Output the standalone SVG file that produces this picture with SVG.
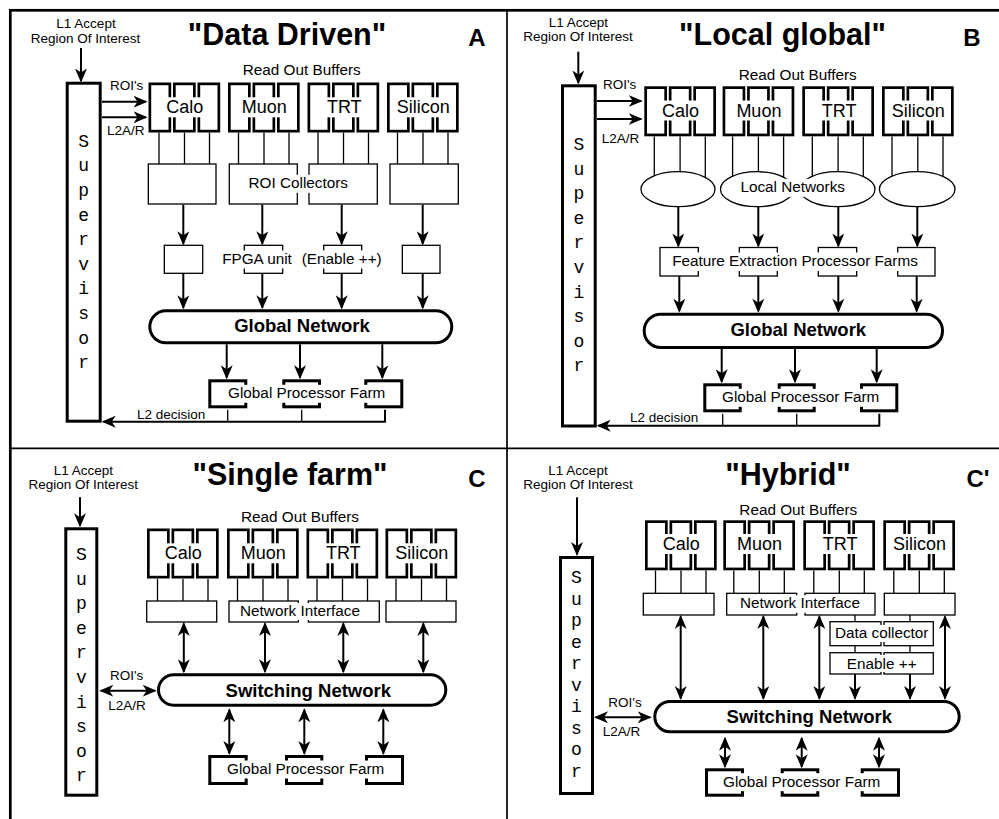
<svg xmlns="http://www.w3.org/2000/svg" width="999" height="819" viewBox="0 0 999 819">
<defs>
<style>
.t{font-family:"Liberation Sans",Arial,Helvetica,sans-serif;fill:#000}
.s{font-size:13.5px}
.m{font-size:15.3px}
.b{font-size:18px}
.nw{font-size:18.5px;font-weight:bold}
.ti{font-size:30.5px;font-weight:bold}
.pl{font-size:24px;font-weight:bold}
.c{text-anchor:middle}
.e{text-anchor:end}
.mono{font-family:"Liberation Mono","Courier New",monospace;font-size:18px;text-anchor:middle;fill:#000}
.thin{fill:#fff;stroke:#000;stroke-width:1.3}
.thick{fill:#fff;stroke:#000;stroke-width:3}
.ln{stroke:#000;stroke-width:1.3;fill:none}
.ar{stroke:#000;stroke-width:2;fill:none;marker-end:url(#ah)}
.da{stroke:#000;stroke-width:2;fill:none;marker-start:url(#ah);marker-end:url(#ah)}
.bg{fill:#fff}
</style>
<marker id="ah" viewBox="0 0 14 12" refX="12.5" refY="6" markerWidth="14" markerHeight="12" markerUnits="userSpaceOnUse" orient="auto-start-reverse">
<path d="M0,0 L14,6 L0,12 L4,6 Z" fill="#000"/>
</marker>
<g id="rob" fill="#fff" stroke="#000" stroke-width="2.7">
<rect x="1.35" y="1.35" width="20" height="47.3"/>
<rect x="25.85" y="1.35" width="20" height="47.3"/>
<rect x="50.35" y="1.35" width="20" height="47.3"/>
</g>
</defs>
<rect width="999" height="819" fill="#fff"/>
<g id="frame" fill="none" stroke="#000">
<rect x="10.3" y="10.3" width="1100" height="1000" stroke-width="2.7"/>
<line x1="507" y1="9" x2="507" y2="819" stroke-width="1.7"/>
<line x1="9" y1="448.3" x2="999" y2="448.3" stroke-width="1.7"/>
</g>

<!-- ===================== PANEL A ===================== -->
<g id="panelA">
<g id="A-connectors">
<path class="ar" d="M81,48 V81"/>
<path class="ar" d="M102,101.7 H146"/>
<path class="ar" d="M102,117.3 H146"/>
<path class="ln" d="M159,132.5 V164 M184.5,132.5 V164 M209.5,132.5 V164 M238.5,132.5 V164 M264,132.5 V164 M289,132.5 V164 M318,132.5 V164 M343.5,132.5 V164 M368.5,132.5 V164 M397.5,132.5 V164 M423,132.5 V164 M448,132.5 V164"/>
<path class="ar" d="M183.3,204.7 V243.8"/>
<path class="ar" d="M262.3,204.7 V243.8"/>
<path class="ar" d="M341.7,204.7 V243.8"/>
<path class="ar" d="M422.7,204.7 V243.8"/>
<path class="ar" d="M183.3,273.3 V307.8"/>
<path class="ar" d="M262.3,273.3 V307.8"/>
<path class="ar" d="M341.7,273.3 V307.8"/>
<path class="ar" d="M422.7,273.3 V307.8"/>
<path class="ar" d="M226.7,344.3 V377.8"/>
<path class="ar" d="M300,344.3 V377.8"/>
<path class="ar" d="M382.3,344.3 V377.8"/>
<path class="ln" d="M227.7,409.8 V421.7 M301.7,409.8 V421.7" stroke-width="1.5"/>
<path class="ar" d="M385,409.8 V421.7 H103.2"/>
</g>
<g id="A-supervisor">
<rect class="thick" x="67.2" y="83.2" width="33" height="338"/>
<text class="mono"><tspan x="83.7" y="146.7">S</tspan><tspan x="83.7" y="171.3">u</tspan><tspan x="83.7" y="195.9">p</tspan><tspan x="83.7" y="220.5">e</tspan><tspan x="83.7" y="245.1">r</tspan><tspan x="83.7" y="269.7">v</tspan><tspan x="83.7" y="294.3">i</tspan><tspan x="83.7" y="318.9">s</tspan><tspan x="83.7" y="343.5">o</tspan><tspan x="83.7" y="368.1">r</tspan></text>
</g>
<g id="A-calo"><use href="#rob" x="148.5" y="82.5"/><rect class="bg" x="165.3" y="97.3" width="39" height="20"/><text class="t b c" x="184.8" y="113.3">Calo</text></g>
<g id="A-muon"><use href="#rob" x="228" y="82.5"/><rect class="bg" x="240.8" y="97.3" width="47" height="20"/><text class="t b c" x="264.3" y="113.3">Muon</text></g>
<g id="A-trt"><use href="#rob" x="307.5" y="82.5"/><rect class="bg" x="325.8" y="97.3" width="37" height="20"/><text class="t b c" x="344.3" y="113.3">TRT</text></g>
<g id="A-silicon"><use href="#rob" x="387" y="82.5"/><rect class="bg" x="395.8" y="97.3" width="55" height="20"/><text class="t b c" x="423.3" y="113.3">Silicon</text></g>
<g id="A-collectors">
<rect class="thin" x="148.3" y="164" width="67.7" height="40"/>
<rect class="thin" x="229.3" y="164" width="68" height="40"/>
<rect class="thin" x="309" y="164" width="68.3" height="40"/>
<rect class="thin" x="390" y="164" width="68.3" height="40"/>
<rect class="bg" x="247.5" y="174.8" width="101.5" height="18"/>
<text class="t m c" x="298.3" y="188.3">ROI Collectors</text>
</g>
<g id="A-units">
<rect class="thin" x="164.3" y="245.3" width="38.4" height="28"/>
<rect class="thin" x="244.3" y="245.3" width="38.4" height="28"/>
<rect class="thin" x="323.7" y="245.3" width="38" height="28"/>
<rect class="thin" x="402.3" y="245.3" width="37.7" height="28"/>
<rect class="bg" x="220.7" y="250.5" width="72.6" height="18"/>
<text class="t m c" x="257" y="264">FPGA unit</text>
<rect class="bg" x="300.7" y="250.5" width="82" height="18"/>
<text class="t m c" x="341.7" y="264">(Enable ++)</text>
</g>
<g id="A-global-network">
<rect class="thick" x="149.8" y="310.8" width="302" height="32" rx="16"/>
<text class="t nw c" x="302" y="331.7">Global Network</text>
</g>
<g id="A-gpf">
<rect class="thick" x="209.8" y="380.8" width="36" height="26"/>
<rect class="thick" x="283.8" y="380.8" width="35.7" height="26"/>
<rect class="thick" x="365.8" y="380.8" width="36" height="26"/>
<rect class="bg" x="227" y="384.8" width="159.3" height="18"/>
<text class="t m c" x="306.7" y="398.3">Global Processor Farm</text>
</g>
<g id="A-labels">
<text class="t s c" x="86" y="28">L1 Accept</text>
<text class="t s c" x="85.5" y="43">Region Of Interest</text>
<text class="t ti c" x="287" y="45">"Data Driven"</text>
<text class="t pl c" x="477" y="46">A</text>
<text class="t m c" x="301.7" y="75">Read Out Buffers</text>
<text class="t s" x="110" y="90">ROI's</text>
<text class="t s" x="107" y="135">L2A/R</text>
<text class="t s" x="137" y="419">L2 decision</text>
</g>
</g>

<!-- ===================== PANEL B ===================== -->
<g id="panelB">
<g id="B-connectors">
<path class="ar" d="M578.3,51.7 V83"/>
<path class="ar" d="M597,101 H641.2"/>
<path class="ar" d="M597,119 H641.2"/>
<path class="ln" d="M654.3,136.5 V189 M680.1,136.5 V189 M705.3,136.5 V189 M732.6,136.5 V189 M758.4,136.5 V189 M783.6,136.5 V189 M812.3,136.5 V189 M838.1,136.5 V189 M863.3,136.5 V189 M892,136.5 V189 M917.8,136.5 V189 M943,136.5 V189"/>
<path class="ar" d="M678.3,206.7 V246"/>
<path class="ar" d="M758.3,206.7 V246"/>
<path class="ar" d="M838.3,206.7 V246"/>
<path class="ar" d="M917.3,206.7 V246"/>
<path class="ar" d="M679.3,276 V311.2"/>
<path class="ar" d="M758.3,276 V311.2"/>
<path class="ar" d="M838.3,276 V311.2"/>
<path class="ar" d="M916.7,276 V311.2"/>
<path class="ar" d="M721.7,349 V381.8"/>
<path class="ar" d="M795,349 V381.8"/>
<path class="ar" d="M876.7,349 V381.8"/>
<path class="ln" d="M722.7,413.8 V425.7 M796.7,413.8 V425.7" stroke-width="1.5"/>
<path class="ar" d="M879.3,413.8 V425.7 H598.2"/>
</g>
<g id="B-supervisor">
<rect class="thick" x="562.5" y="85.8" width="32.7" height="340.2"/>
<text class="mono"><tspan x="578.8" y="150">S</tspan><tspan x="578.8" y="174.6">u</tspan><tspan x="578.8" y="199.2">p</tspan><tspan x="578.8" y="223.8">e</tspan><tspan x="578.8" y="248.4">r</tspan><tspan x="578.8" y="273">v</tspan><tspan x="578.8" y="297.6">i</tspan><tspan x="578.8" y="322.2">s</tspan><tspan x="578.8" y="346.8">o</tspan><tspan x="578.8" y="371.4">r</tspan></text>
</g>
<g id="B-calo"><use href="#rob" x="644.3" y="86.3"/><rect class="bg" x="661.1" y="100.5" width="39" height="20"/><text class="t b c" x="680.6" y="116.5">Calo</text></g>
<g id="B-muon"><use href="#rob" x="722.6" y="86.3"/><rect class="bg" x="735.4" y="100.5" width="47" height="20"/><text class="t b c" x="758.9" y="116.5">Muon</text></g>
<g id="B-trt"><use href="#rob" x="802.3" y="86.3"/><rect class="bg" x="820.6" y="100.5" width="37" height="20"/><text class="t b c" x="839.1" y="116.5">TRT</text></g>
<g id="B-silicon"><use href="#rob" x="882" y="86.3"/><rect class="bg" x="890.8" y="100.5" width="55" height="20"/><text class="t b c" x="918.3" y="116.5">Silicon</text></g>
<g id="B-local-networks">
<ellipse class="thin" cx="678" cy="189.2" rx="37" ry="17.5"/>
<ellipse class="thin" cx="757" cy="189.2" rx="36.5" ry="17.5"/>
<ellipse class="thin" cx="837.5" cy="189.2" rx="37.5" ry="17.5"/>
<ellipse class="thin" cx="917.2" cy="189.2" rx="37.8" ry="17.5"/>
<rect class="bg" x="739.4" y="178.8" width="106.6" height="18"/>
<text class="t m c" x="792.7" y="192.3">Local Networks</text>
</g>
<g id="B-feature">
<rect class="thin" x="660" y="247.5" width="38.3" height="28.5"/>
<rect class="thin" x="739.3" y="247.5" width="38" height="28.5"/>
<rect class="thin" x="818.3" y="247.5" width="38.4" height="28.5"/>
<rect class="thin" x="897.7" y="247.5" width="37.3" height="28.5"/>
<rect class="bg" x="671.1" y="252.5" width="247.7" height="18.5"/>
<text class="t m c" x="795" y="266">Feature Extraction Processor Farms</text>
</g>
<g id="B-global-network">
<rect class="thick" x="644.2" y="314.2" width="298.3" height="33.3" rx="16.6"/>
<text class="t nw c" x="798.3" y="336">Global Network</text>
</g>
<g id="B-gpf">
<rect class="thick" x="704.8" y="384.8" width="35.4" height="26"/>
<rect class="thick" x="779.2" y="384.8" width="35" height="26"/>
<rect class="thick" x="861.5" y="384.8" width="35.3" height="26"/>
<rect class="bg" x="721" y="388.8" width="159.3" height="18"/>
<text class="t m c" x="800.7" y="402.3">Global Processor Farm</text>
</g>
<g id="B-labels">
<text class="t s c" x="578.3" y="26.7">L1 Accept</text>
<text class="t s c" x="578" y="41">Region Of Interest</text>
<text class="t ti c" x="782.5" y="45">"Local global"</text>
<text class="t pl c" x="972" y="46">B</text>
<text class="t m c" x="797.7" y="80">Read Out Buffers</text>
<text class="t s" x="603" y="89.3">ROI's</text>
<text class="t s" x="601.7" y="143.3">L2A/R</text>
<text class="t s e" x="698.3" y="421.7">L2 decision</text>
</g>
</g>

<!-- ===================== PANEL C ===================== -->
<g id="panelC">
<g id="C-connectors">
<path class="ar" d="M80,497.3 V525.8"/>
<path class="ln" d="M157.5,579 V601 M183,579 V601 M208,579 V601 M237.5,579 V601 M263,579 V601 M288,579 V601 M317,579 V601 M342.5,579 V601 M367.5,579 V601 M396,579 V601 M421.5,579 V601 M446.5,579 V601"/>
<path class="da" d="M183.8,623.5 V671.8"/>
<path class="da" d="M265,623.5 V671.8"/>
<path class="da" d="M343.3,623.5 V671.8"/>
<path class="da" d="M423.3,623.5 V671.8"/>
<path class="da" d="M100.8,690.7 H155.2"/>
<path class="da" d="M229.3,709.8 V753.5"/>
<path class="da" d="M304.3,709.8 V753.5"/>
<path class="da" d="M383.3,709.8 V753.5"/>
</g>
<g id="C-supervisor">
<rect class="thick" x="65.8" y="528.8" width="31" height="266.4"/>
<text class="mono"><tspan x="81.3" y="560">S</tspan><tspan x="81.3" y="584.6">u</tspan><tspan x="81.3" y="609.2">p</tspan><tspan x="81.3" y="633.8">e</tspan><tspan x="81.3" y="658.4">r</tspan><tspan x="81.3" y="683">v</tspan><tspan x="81.3" y="707.6">i</tspan><tspan x="81.3" y="732.2">s</tspan><tspan x="81.3" y="756.8">o</tspan><tspan x="81.3" y="781.4">r</tspan></text>
</g>
<g id="C-calo"><use href="#rob" x="147" y="528.5"/><rect class="bg" x="163.8" y="543.3" width="39" height="20"/><text class="t b c" x="183.3" y="559.3">Calo</text></g>
<g id="C-muon"><use href="#rob" x="227" y="528.5"/><rect class="bg" x="239.8" y="543.3" width="47" height="20"/><text class="t b c" x="263.3" y="559.3">Muon</text></g>
<g id="C-trt"><use href="#rob" x="306.5" y="528.5"/><rect class="bg" x="324.8" y="543.3" width="37" height="20"/><text class="t b c" x="343.3" y="559.3">TRT</text></g>
<g id="C-silicon"><use href="#rob" x="385.5" y="528.5"/><rect class="bg" x="394.3" y="543.3" width="55" height="20"/><text class="t b c" x="421.8" y="559.3">Silicon</text></g>
<g id="C-network-interface">
<rect class="thin" x="146.7" y="601" width="70" height="21"/>
<rect class="thin" x="229" y="601" width="69.3" height="21"/>
<rect class="thin" x="308.3" y="601" width="71" height="21"/>
<rect class="thin" x="386" y="601" width="70" height="21"/>
<rect class="bg" x="239" y="603" width="122" height="17"/>
<text class="t m c" x="300" y="615.7">Network Interface</text>
</g>
<g id="C-switching-network">
<rect class="thick" x="158.5" y="674.8" width="287.3" height="30.4" rx="15.2"/>
<text class="t nw c" x="308.3" y="696.7">Switching Network</text>
</g>
<g id="C-gpf">
<rect class="thick" x="209.8" y="756.5" width="36.4" height="27"/>
<rect class="thick" x="286.5" y="756.5" width="35.3" height="27"/>
<rect class="thick" x="366.5" y="756.5" width="36" height="27"/>
<rect class="bg" x="226" y="760.5" width="159.3" height="18"/>
<text class="t m c" x="305.7" y="774">Global Processor Farm</text>
</g>
<g id="C-labels">
<text class="t s c" x="83.3" y="475">L1 Accept</text>
<text class="t s c" x="83.3" y="489.3">Region Of Interest</text>
<text class="t ti c" x="290" y="485">"Single farm"</text>
<text class="t pl c" x="477" y="487">C</text>
<text class="t m c" x="300" y="522.3">Read Out Buffers</text>
<text class="t s" x="110" y="680">ROI's</text>
<text class="t s" x="108.3" y="710">L2A/R</text>
</g>
</g>

<!-- ===================== PANEL D ===================== -->
<g id="panelD">
<g id="D-connectors">
<path class="ar" d="M577,497.3 V554.5"/>
<path class="ln" d="M655.5,570.5 V593.3 M681,570.5 V593.3 M706,570.5 V593.3 M733.8,570.5 V593.3 M759.3,570.5 V593.3 M784.3,570.5 V593.3 M813.8,570.5 V593.3 M839.3,570.5 V593.3 M864.3,570.5 V593.3 M893.8,570.5 V593.3 M919.3,570.5 V593.3 M944.3,570.5 V593.3"/>
<path class="ln" d="M855,615 V621.7 M910,615 V621.7 M855,645.7 V652.7 M910,645.7 V652.7"/>
<path class="ar" d="M855,674 V698.5"/>
<path class="ar" d="M910,674 V698.5"/>
<path class="da" d="M680.7,616.5 V698.5"/>
<path class="da" d="M763.3,616.5 V698.5"/>
<path class="da" d="M819.3,616.5 V698.5"/>
<path class="da" d="M945,616.5 V698.5"/>
<path class="da" d="M595.5,717.3 H650.2"/>
<path class="da" d="M725,738.2 V766.8"/>
<path class="da" d="M801.7,738.2 V766.8"/>
<path class="da" d="M879,738.2 V766.8"/>
</g>
<g id="D-supervisor">
<rect class="thick" x="560.5" y="557.5" width="32" height="236"/>
<text class="mono"><tspan x="576.5" y="583">S</tspan><tspan x="576.5" y="604.5">u</tspan><tspan x="576.5" y="626">p</tspan><tspan x="576.5" y="647.5">e</tspan><tspan x="576.5" y="669">r</tspan><tspan x="576.5" y="690.5">v</tspan><tspan x="576.5" y="712">i</tspan><tspan x="576.5" y="733.5">s</tspan><tspan x="576.5" y="755">o</tspan><tspan x="576.5" y="776.5">r</tspan></text>
</g>
<g id="D-calo"><use href="#rob" x="645" y="520.3"/><rect class="bg" x="661.8" y="534" width="39" height="20"/><text class="t b c" x="681.3" y="550">Calo</text></g>
<g id="D-muon"><use href="#rob" x="723.3" y="520.3"/><rect class="bg" x="736.1" y="534" width="47" height="20"/><text class="t b c" x="759.6" y="550">Muon</text></g>
<g id="D-trt"><use href="#rob" x="803.3" y="520.3"/><rect class="bg" x="821.6" y="534" width="37" height="20"/><text class="t b c" x="840.1" y="550">TRT</text></g>
<g id="D-silicon"><use href="#rob" x="883.3" y="520.3"/><rect class="bg" x="892.1" y="534" width="55" height="20"/><text class="t b c" x="919.6" y="550">Silicon</text></g>
<g id="D-network-interface">
<rect class="thin" x="643.3" y="593.3" width="70.7" height="21.7"/>
<rect class="thin" x="726.7" y="593.3" width="70" height="21.7"/>
<rect class="thin" x="805" y="593.3" width="70" height="21.7"/>
<rect class="thin" x="884.3" y="593.3" width="70.7" height="21.7"/>
<rect class="bg" x="739" y="595.3" width="122" height="17.5"/>
<text class="t m c" x="800" y="608.3">Network Interface</text>
</g>
<g id="D-data-collector">
<rect class="thin" x="830" y="621.7" width="51" height="24"/>
<rect class="thin" x="884" y="621.7" width="49.3" height="24"/>
<rect class="bg" x="833.9" y="625" width="95.5" height="17"/>
<text class="t m c" x="881.7" y="638.3">Data collector</text>
</g>
<g id="D-enable">
<rect class="thin" x="830" y="652.7" width="51" height="21.3"/>
<rect class="thin" x="884" y="652.7" width="49.3" height="21.3"/>
<rect class="bg" x="845.8" y="655" width="71.8" height="17"/>
<text class="t m c" x="881.7" y="668.5">Enable ++</text>
</g>
<g id="D-switching-network">
<rect class="thick" x="654.8" y="701.5" width="304.4" height="30.3" rx="15.2"/>
<text class="t nw c" x="809.3" y="722.7">Switching Network</text>
</g>
<g id="D-gpf">
<rect class="thick" x="706.5" y="769.8" width="36" height="25.4"/>
<rect class="thick" x="782.2" y="769.8" width="35.6" height="25.4"/>
<rect class="thick" x="862.2" y="769.8" width="36.3" height="25.4"/>
<rect class="bg" x="722" y="773.2" width="159.3" height="18"/>
<text class="t m c" x="801.7" y="786.7">Global Processor Farm</text>
</g>
<g id="D-labels">
<text class="t s c" x="578" y="475">L1 Accept</text>
<text class="t s c" x="578" y="489.3">Region Of Interest</text>
<text class="t ti c" x="788" y="485">"Hybrid"</text>
<text class="t pl c" x="978" y="487">C'</text>
<text class="t m c" x="798.3" y="515">Read Out Buffers</text>
<text class="t s" x="608.3" y="707.3">ROI's</text>
<text class="t s" x="602.7" y="736">L2A/R</text>
</g>
</g>
</svg>
